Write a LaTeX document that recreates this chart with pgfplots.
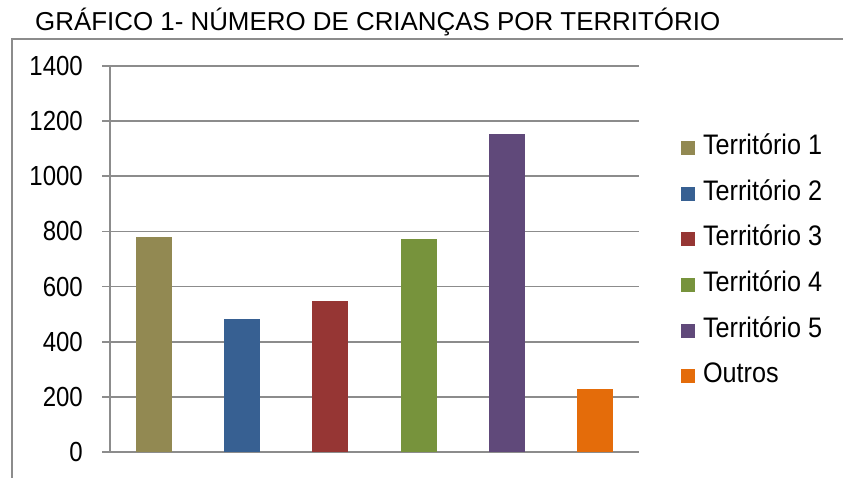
\documentclass[border=0pt]{standalone}
\usepackage{pgfplots}
\pgfplotsset{compat=1.18}
\usepackage{fontspec}
\setmainfont{Liberation Sans}
\definecolor{c1}{RGB}{146,137,82}
\definecolor{c2}{RGB}{55,96,146}
\definecolor{c3}{RGB}{150,54,52}
\definecolor{c4}{RGB}{119,147,60}
\definecolor{c5}{RGB}{96,73,122}
\definecolor{c6}{RGB}{228,108,10}
\definecolor{gridc}{RGB}{140,140,140}
\begin{document}
\begin{tikzpicture}[x=1pt,y=1pt]
\path[use as bounding box] (0,0) rectangle (843,478);
\draw[gridc, line width=2pt] (12,-5) -- (12,438.5) -- (850,438.5);
\node[anchor=base west, inner sep=0pt, font=\fontsize{25.9}{30}\selectfont] at (35,447.3) {GRÁFICO 1- NÚMERO DE CRIANÇAS POR TERRITÓRIO};
\begin{axis}[
  at={(110pt,26pt)}, anchor=south west, scale only axis,
  width=529pt, height=386pt,
  xmin=-0.5, xmax=5.5, ymin=0, ymax=1400,
  ytick={0,200,...,1400}, xtick=\empty,
  axis lines*=left,
  axis line style={gridc, line width=1.8pt},
  ymajorgrids, major grid style={gridc, line width=1.8pt},
  tick align=outside, major tick length=8pt,
  tick style={gridc, line width=1.8pt},
  /pgf/number format/assume math mode=true,
  /pgf/number format/1000 sep={},
  yticklabel={\scalebox{1}[1.15]{\pgfmathprintnumber{\tick}}},
  yticklabel style={font=\fontsize{24}{28}\selectfont, inner sep=0pt, xshift=-19pt},
  legend cell align=left,
  legend image code/.code={\fill[#1] (0pt,-7pt) rectangle (14pt,7pt);},
  legend style={at={(1.0794,0.492)}, anchor=west, draw=none, fill=none,
    inner sep=0pt, outer sep=0pt, column sep=8pt, row sep=22.7pt,
    nodes={inner sep=0pt, text height=18pt, text depth=5pt},
    font=\fontsize{25.2}{29}\selectfont},
]
\addplot[ybar, bar width=36pt, bar shift=0pt, fill=c1, draw=none] coordinates {(0,781)};
\addlegendentry{\scalebox{1}[1.12]{Território 1}}
\addplot[ybar, bar width=36pt, bar shift=0pt, fill=c2, draw=none] coordinates {(1,483)};
\addlegendentry{\scalebox{1}[1.12]{Território 2}}
\addplot[ybar, bar width=36pt, bar shift=0pt, fill=c3, draw=none] coordinates {(2,548)};
\addlegendentry{\scalebox{1}[1.12]{Território 3}}
\addplot[ybar, bar width=36pt, bar shift=0pt, fill=c4, draw=none] coordinates {(3,774)};
\addlegendentry{\scalebox{1}[1.12]{Território 4}}
\addplot[ybar, bar width=36pt, bar shift=0pt, fill=c5, draw=none] coordinates {(4,1155)};
\addlegendentry{\scalebox{1}[1.12]{Território 5}}
\addplot[ybar, bar width=36pt, bar shift=0pt, fill=c6, draw=none] coordinates {(5,229)};
\addlegendentry{\scalebox{1}[1.12]{Outros}}
\end{axis}
\end{tikzpicture}
\end{document}
